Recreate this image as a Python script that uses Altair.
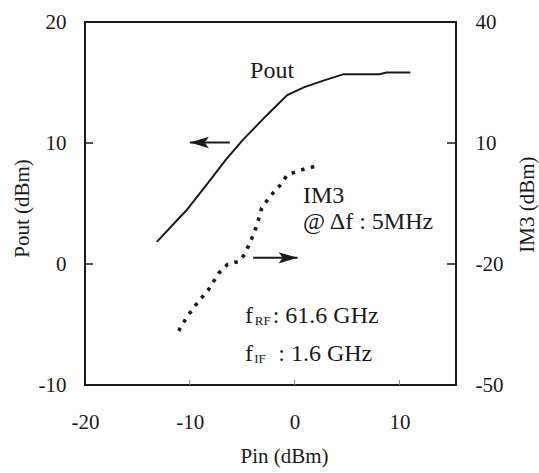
import altair as alt
import pandas as pd

# ---- data ----
pout_pin = [-13.15, -10.32, -8.52, -6.57, -4.94, -2.65, -0.70, 0.93, 2.89, 4.68, 8.11, 8.76, 11.04]
pout_dbm = [1.83, 4.44, 6.41, 8.60, 10.26, 12.30, 13.96, 14.62, 15.20, 15.69, 15.69, 15.83, 15.83]

im3_pin = [-11.07, -10.32, -9.50, -8.20, -7.22, -6.40, -5.26, -4.77, -4.12, -3.63, -3.14, -2.33, -1.35, -0.70, 0.61, 1.91]
im3_dbm = [-36.6, -33.3, -30.4, -26.3, -22.2, -20.1, -19.3, -17.6, -13.9, -10.6, -6.1, -3.2, -0.4, 2.1, 3.3, 4.2]

x_ticks = [-20, -10, 0, 10]
left_ticks = [-10, 0, 10, 20]
right_ticks = [-50, -20, 10, 40]
left_inner_ticks = [10, 0]
right_inner_ticks = [10, -20]
bottom_inner_ticks = [-10, 0, 10]

annot_text = ["Pout", "IM3", "@ \u0394f : 5MHz"]
annot_x = [-4.25, 0.8, 0.8]
annot_y = [15.95, 5.6, 3.5]

freq_main = ["f", "f"]
freq_main_x = [-4.73, -4.73]
freq_y = [-4.3, -7.4]
freq_sub = ["RF", "IF"]
freq_sub_x = [-3.8, -3.85]
freq_sub_y = [-4.75, -7.85]
freq_rest = [": 61.6 GHz", ": 1.6 GHz"]
freq_rest_x = [-2.09, -1.56]

arrow_x_start = [-6.18, -3.96]
arrow_x_end = [-9.99, 0.28]
arrow_y = [10.04, 0.51]
arrow_shape = ["M 0 0 L 2 -0.6 L 1.55 0 L 2 0.6 Z", "M 0 0 L -2 -0.6 L -1.55 0 L -2 0.6 Z"]

FONT = "Liberation Serif"
INK = "#1a1a1a"
W, H = 371, 363
FS = 21

xscale = alt.Scale(domain=[-20, 15.4], nice=False, zero=False)
yl = alt.Scale(domain=[-10, 20], nice=False, zero=False)
yr = alt.Scale(domain=[-50, 40], nice=False, zero=False)

common = dict(tickSize=0, domain=False, grid=False, labelFont=FONT, labelFontSize=FS, labelColor=INK,
              titleFont=FONT, titleFontSize=FS, titleColor=INK, titleFontWeight="normal",
              labelExpr="'' + datum.value", labelOverlap=False)

x_axis = alt.Axis(values=x_ticks, title="Pin (dBm)", labelFlush=False, labelPadding=26,
                  titleX=199, titleY=71, titleAlign="center", titleBaseline="middle", **common)
yl_axis = alt.Axis(values=left_ticks, title="Pout (dBm)", labelPadding=19,
                   titleX=-63, titleY=186, titleAngle=270, titleAlign="center", titleBaseline="middle", **common)
yr_axis = alt.Axis(orient="right", values=right_ticks, title="IM3 (dBm)", labelPadding=19,
                   titleX=71, titleY=182, titleAngle=270, titleAlign="center", titleBaseline="middle", **common)


def X(f):
    return alt.X(f, scale=xscale, axis=x_axis)


def YL(f):
    return alt.Y(f, scale=yl, axis=yl_axis)


def YR(f):
    return alt.Y(f, scale=yr, axis=yr_axis)


pout_df = pd.DataFrame({"pin": pout_pin, "pout": pout_dbm})
im3_df = pd.DataFrame({"pin": im3_pin, "im3": im3_dbm})

pout_line = alt.Chart(pout_df).mark_line(color=INK, strokeWidth=2).encode(x=X("pin:Q"), y=YL("pout:Q"))

lt_df = pd.DataFrame({"v": left_inner_ticks})
left_tick_marks = alt.Chart(lt_df).mark_rule(color=INK, strokeWidth=1.5).encode(
    y=YL("v:Q"), x=alt.value(0), x2=alt.value(8))

bt_df = pd.DataFrame({"v": bottom_inner_ticks})
bottom_tick_marks = alt.Chart(bt_df).mark_rule(color="#888", strokeWidth=1).encode(
    x=X("v:Q"), y=alt.value(H), y2=alt.value(H - 5))

ann_df = pd.DataFrame({"t": annot_text, "x": annot_x, "y": annot_y})
ann = alt.Chart(ann_df).mark_text(align="left", baseline="middle", fontSize=24, font=FONT, color=INK).encode(
    x=X("x:Q"), y=YL("y:Q"), text="t:N")

fm_df = pd.DataFrame({"t": freq_main, "x": freq_main_x, "y": freq_y})
fm = alt.Chart(fm_df).mark_text(align="left", baseline="middle", fontSize=24, font=FONT, color=INK).encode(
    x=X("x:Q"), y=YL("y:Q"), text="t:N")
fs_df = pd.DataFrame({"t": freq_sub, "x": freq_sub_x, "y": freq_sub_y})
fs = alt.Chart(fs_df).mark_text(align="left", baseline="middle", fontSize=13, font=FONT, color=INK).encode(
    x=X("x:Q"), y=YL("y:Q"), text="t:N")
fr_df = pd.DataFrame({"t": freq_rest, "x": freq_rest_x, "y": freq_y})
fr = alt.Chart(fr_df).mark_text(align="left", baseline="middle", fontSize=24, font=FONT, color=INK).encode(
    x=X("x:Q"), y=YL("y:Q"), text="t:N")

arr_df = pd.DataFrame({"x0": arrow_x_start, "x1": arrow_x_end, "y": arrow_y, "shape": arrow_shape})
shafts = alt.Chart(arr_df).mark_rule(color=INK, strokeWidth=2).encode(
    x=X("x0:Q"), x2="x1:Q", y=YL("y:Q"))
heads = alt.Chart(arr_df).mark_point(filled=True, color=INK, opacity=1, size=361, strokeWidth=0).encode(
    x=X("x1:Q"), y=YL("y:Q"), shape=alt.Shape("shape:N", scale=None))

left_layer = alt.layer(pout_line, left_tick_marks, bottom_tick_marks, ann, fm, fs, fr, shafts, heads)

im3_line = alt.Chart(im3_df).mark_line(color=INK, strokeWidth=3.6, strokeDash=[3.5, 6.5]).encode(
    x=X("pin:Q"), y=YR("im3:Q"))
rt_df = pd.DataFrame({"v": right_inner_ticks})
right_tick_marks = alt.Chart(rt_df).mark_rule(color=INK, strokeWidth=1.5).encode(
    y=YR("v:Q"), x=alt.value(W - 9), x2=alt.value(W))

right_layer = alt.layer(im3_line, right_tick_marks)

chart = alt.layer(left_layer, right_layer).resolve_scale(y="independent").properties(
    width=W, height=H,
    autosize="none",
    padding={"left": 85, "top": 22, "right": 539 - 85 - W, "bottom": 473 - 22 - H},
    background="white",
).configure_view(stroke=INK, strokeWidth=2).configure_text(font=FONT)

chart.save("out.html", embed_options={"renderer": "svg", "actions": False})
